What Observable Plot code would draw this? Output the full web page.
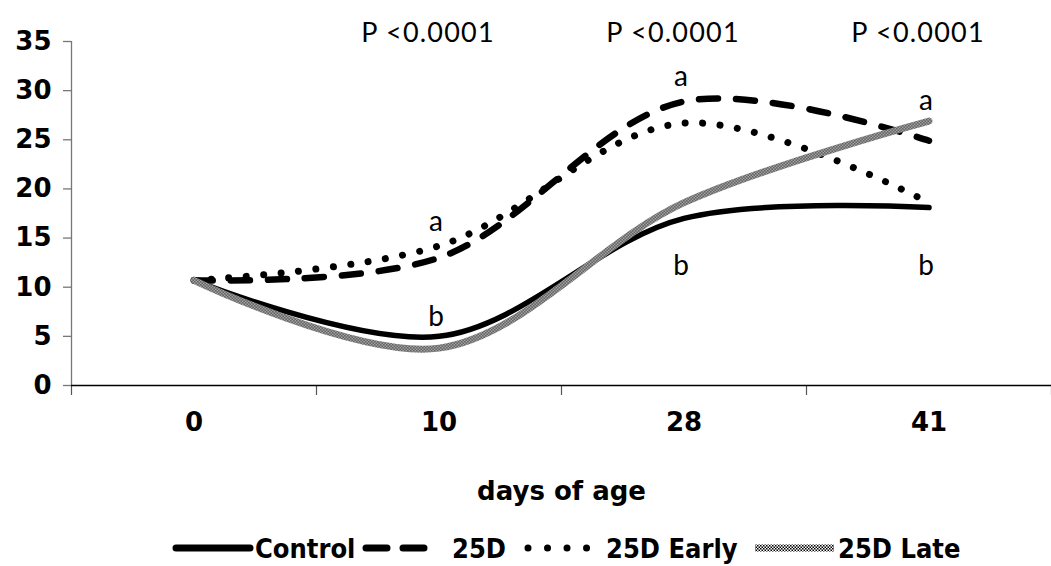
<!DOCTYPE html>
<html>
<head>
<meta charset="utf-8">
<script src="https://cdn.jsdelivr.net/npm/d3@7"></script>
<script src="https://cdn.jsdelivr.net/npm/@observablehq/plot@0.6"></script>
<style>
  html, body { margin: 0; padding: 0; background: #fff; }
  #wrap { position: relative; width: 1051px; height: 566px; }
  .late-line path { stroke: url(#checker); }
  .geo text { letter-spacing: 1.2px; }
  .lg { position: absolute; top: 530px; height: 36px; display: flex; align-items: center;
    font-family: "DejaVu Sans Condensed", "DejaVu Sans", sans-serif; font-weight: bold; font-size: 27px; color: #000; white-space: nowrap; }
  .lg svg { display: block; }
</style>
</head>
<body>
<div id="wrap"></div>
<script>
// ---- data ----
const days = ["0", "10", "28", "41"];
const control = [10.7, 5.0, 17.0, 18.1];
const d25 = [10.7, 13.0, 28.9, 24.9];
const d25Early = [10.7, 14.2, 26.7, 18.6];
const d25Late = [10.7, 3.8, 18.6, 26.9];
const seriesNames = ["Control", "25D", "25D Early", "25D Late"];
const yTicks = [0, 5, 10, 15, 20, 25, 30, 35];
const pDays = ["10", "28", "41"];
const pLabels = ["P <0.0001", "P <0.0001", "P <0.0001"];
const letterDays = ["10", "10", "28", "28", "41", "41"];
const letterY = [16.6, 7.0, 31.4, 12.2, 28.9, 12.2];
const letterText = ["a", "b", "a", "b", "a", "b"];
const xLabel = "days of age";

const idx = d => days.indexOf(d);
const rows = (vals) => vals.map((v, i) => ({i, v}));

const geo = "Lato, 'Open Sans', sans-serif";
const curve = "catmull-rom";

const chart = Plot.plot({
  width: 1051,
  height: 515,
  marginLeft: 71,
  marginRight: 0,
  marginTop: 41,
  marginBottom: 130,
  style: {fontFamily: "'DejaVu Sans', Verdana, sans-serif", fontWeight: "bold", fontSize: "26px", color: "#000", background: "#fff"},
  x: {type: "linear", domain: [-0.5, days.length - 0.5]},
  y: {domain: [0, 35]},
  marks: [
    Plot.axisY({ticks: yTicks, tickSize: 8, tickPadding: 12, stroke: "#777", strokeWidth: 1.3, fontSize: 26, fontWeight: "bold", label: null}),
    Plot.ruleX([-0.5], {stroke: "#777", strokeWidth: 1.3, y1: 0, y2: 35}),
    Plot.axisX({ticks: d3.range(-0.5, days.length, 1), tickSize: 10, tickFormat: () => "", stroke: "#555", strokeWidth: 1.2, label: null}),
    Plot.axisX({ticks: d3.range(days.length), tickSize: 0, tickPadding: 27, tickFormat: i => days[i], fontSize: 26, fontWeight: "bold", label: null}),
    Plot.ruleY([0], {stroke: "#000", strokeWidth: 1.3}),
    Plot.line(rows(control), {x: "i", y: "v", curve, stroke: "#000", strokeWidth: 5.5}),
    Plot.line(rows(d25), {x: "i", y: "v", curve, stroke: "#000", strokeWidth: 6.5, strokeDasharray: "19,18", strokeLinecap: "round"}),
    Plot.line(rows(d25Early), {x: "i", y: "v", curve, stroke: "#000", strokeWidth: 7, strokeDasharray: "0.01,17.5", strokeLinecap: "round"}),
    Plot.line(rows(d25Late), {x: "i", y: "v", curve, stroke: "#888", strokeWidth: 7, className: "late-line"}),
    Plot.text(pLabels, {x: pDays.map(idx), text: d => d, frameAnchor: "top", dy: -19, dx: -11, fontFamily: geo, fontWeight: "normal", fontSize: 27, className: "geo"}),
    Plot.text(letterText, {x: letterDays.map(idx), y: letterY, text: d => d, dx: -3, fontFamily: geo, fontWeight: "normal", fontSize: 28}),
    Plot.text([xLabel], {frameAnchor: "bottom", dy: 114, text: d => d, fontSize: 26, fontWeight: "bold"})
  ]
});

// checker pattern for the 25D Late line
const ns = "http://www.w3.org/2000/svg";
const defs = document.createElementNS(ns, "defs");
defs.innerHTML = '<pattern id="checker" width="3" height="3" patternUnits="userSpaceOnUse">' +
  '<rect width="3" height="3" fill="#fff"/><rect width="1.5" height="1.5" fill="#000"/><rect x="1.5" y="1.5" width="1.5" height="1.5" fill="#000"/></pattern>';
chart.insertBefore(defs, chart.firstChild);

const wrap = document.getElementById("wrap");
wrap.appendChild(chart);

// legend
const swatch = (w, attrs) => {
  const s = document.createElementNS(ns, "svg");
  s.setAttribute("width", w); s.setAttribute("height", 12);
  const l = document.createElementNS(ns, "line");
  l.setAttribute("x1", 4); l.setAttribute("x2", w - 4); l.setAttribute("y1", 6); l.setAttribute("y2", 6);
  for (const [k, v] of Object.entries(attrs)) l.setAttribute(k, v);
  s.appendChild(l);
  return s;
};
const items = [
  {sx: 172, w: 82, tx: 255, attrs: {stroke: "#000", "stroke-width": 7, "stroke-linecap": "round"}},
  {sx: 362, w: 78, tx: 452, attrs: {stroke: "#000", "stroke-width": 7, "stroke-linecap": "round", "stroke-dasharray": "21,16"}},
  {sx: 524, w: 68, tx: 606, attrs: {stroke: "#000", "stroke-width": 7, "stroke-linecap": "round", "stroke-dasharray": "0.01,19.5"}},
  {sx: 751, w: 87, tx: 838, attrs: {stroke: "url(#checker)", "stroke-width": 7}}
];
items.forEach((it, k) => {
  const a = document.createElement("div");
  a.className = "lg"; a.style.left = it.sx + "px";
  a.appendChild(swatch(it.w, it.attrs));
  wrap.appendChild(a);
  const b = document.createElement("div");
  b.className = "lg"; b.style.left = it.tx + "px";
  b.textContent = seriesNames[k];
  wrap.appendChild(b);
});
</script>
</body>
</html>
